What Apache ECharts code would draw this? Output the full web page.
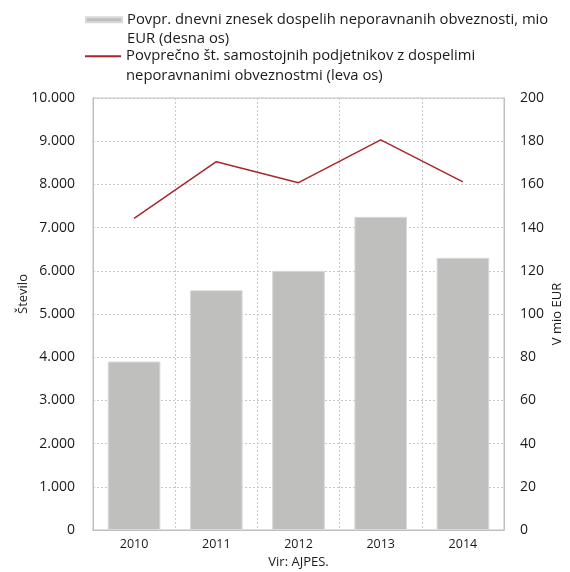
<!DOCTYPE html>
<html><head><meta charset="utf-8">
<script src="https://cdn.jsdelivr.net/npm/echarts@6/dist/echarts.min.js"></script>
<style>html,body{margin:0;padding:0;background:#fff}#c{width:570px;height:572px}</style>
</head><body><div id="c"></div>
<script>
const categories = ['2010','2011','2012','2013','2014'];
const amountMioEur = [78, 111, 120, 145, 126];
const entrepreneurs = [7215, 8525, 8040, 9030, 8060];
const barName = 'Povpr. dnevni znesek dospelih neporavnanih obveznosti, mio\nEUR (desna os)';
const lineName = 'Povprečno št. samostojnih podjetnikov z dospelimi\nneporavnanimi obveznostmi (leva os)';

const font = '"Open Sans", sans-serif';
const chart = echarts.init(document.getElementById('c'));
const fmt = v => v === 0 ? '0' : v.toLocaleString('de-DE', {minimumFractionDigits:0});
const legendText = {fontSize: 14.8, color: '#1a1a1a', lineHeight: 19.5, fontFamily: font};
chart.setOption({
  animation: false,
  textStyle: {fontFamily: font},
  legend: [{
    data: [{name: barName, icon: 'path://M0,0L36,0L36,5L0,5Z M0,24.5'}],
    left: 85, top: 10, padding: 0, itemWidth: 36, itemHeight: 24.5, itemGap: 0,
    textStyle: legendText
  },{
    data: [{name: lineName, icon: 'path://M0,0L36,0L36,2L0,2Z M0,21.5'}],
    left: 85, top: 46.5, padding: 0, itemWidth: 36, itemHeight: 21.5, itemGap: 0,
    textStyle: legendText
  }],
  grid: {left: 93, right: 66, top: 98, bottom: 42, outerBoundsMode: 'none', containLabel: false,
         show: true, borderColor: '#bfbfbf', borderWidth: 1},
  xAxis: {
    type: 'category', data: categories,
    name: 'Vir: AJPES.', nameLocation: 'middle', nameGap: 26, nameMoveOverlap: false,
    nameTextStyle: {fontSize: 13, color: '#1a1a1a'},
    axisLine: {lineStyle: {color: '#bfbfbf'}},
    axisTick: {show: false},
    axisLabel: {fontSize: 12.5, color: '#1a1a1a', margin: 8},
    splitLine: {show: true, lineStyle: {color: '#c8c8c8', type: [2,2]}}
  },
  yAxis: [{
    type: 'value', min: 0, max: 10000, interval: 1000,
    name: 'Število', nameLocation: 'middle', nameGap: 63, nameRotate: 90, nameMoveOverlap: false,
    nameTextStyle: {fontSize: 13, color: '#1a1a1a', padding: [0, 0, 0, 40]},
    axisLine: {show: true, lineStyle: {color: '#bfbfbf'}},
    axisTick: {show: false},
    axisLabel: {fontSize: 14, color: '#1a1a1a', margin: 18, formatter: fmt},
    splitLine: {show: true, lineStyle: {color: '#c8c8c8', type: [2,2]}}
  },{
    type: 'value', min: 0, max: 200, interval: 20, position: 'right',
    name: 'V mio EUR', nameLocation: 'middle', nameGap: 47, nameRotate: 90, nameMoveOverlap: false,
    nameTextStyle: {fontSize: 13, color: '#1a1a1a'},
    axisLine: {show: true, lineStyle: {color: '#bfbfbf'}},
    axisTick: {show: false},
    axisLabel: {fontSize: 14, color: '#1a1a1a', margin: 16},
    splitLine: {show: false}
  }],
  series: [{
    name: barName, type: 'bar', yAxisIndex: 1, data: amountMioEur,
    barCategoryGap: '36%',
    itemStyle: {color: '#bfbfbd', borderColor: '#d9d9d9', borderWidth: 1}
  },{
    name: lineName, type: 'line', yAxisIndex: 0, data: entrepreneurs,
    symbol: 'none', lineStyle: {color: '#a9262b', width: 1.5}, itemStyle: {color: '#a9262b'}
  }]
});
</script></body></html>
